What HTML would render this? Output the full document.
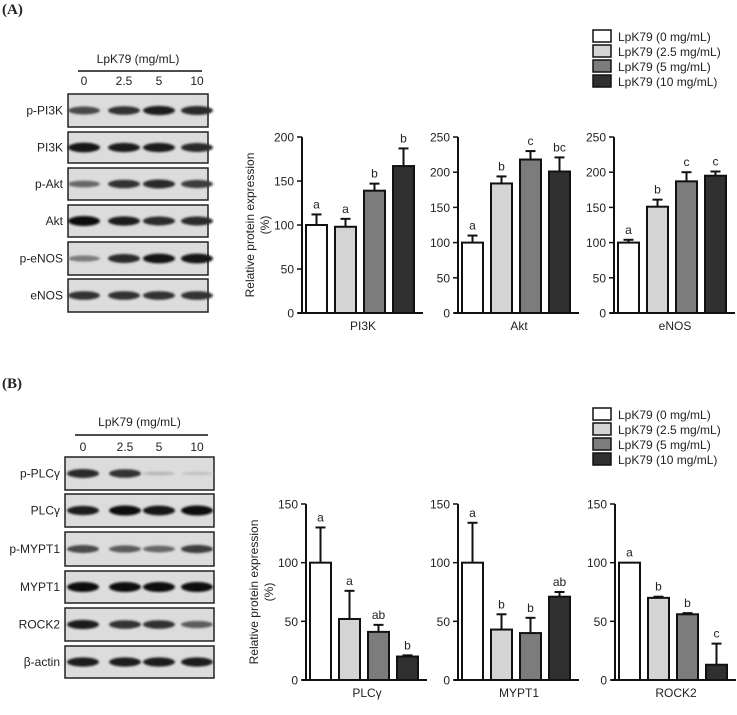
<!DOCTYPE html>
<html><head><meta charset="utf-8"><style>
body{margin:0;background:#fff;width:737px;height:710px;overflow:hidden}
svg text{font-family:"Liberation Sans",sans-serif;fill:#222}
</style></head><body>
<svg id="s" width="737" height="710" viewBox="0 0 737 710" xmlns="http://www.w3.org/2000/svg">
<defs><filter id="bl" x="-20%" y="-100%" width="140%" height="300%"><feGaussianBlur stdDeviation="1.1"/></filter></defs>
<text x="2" y="14" style="font-family:'Liberation Serif',serif;font-weight:bold;font-size:15px">(A)</text>
<text x="2" y="388" style="font-family:'Liberation Serif',serif;font-weight:bold;font-size:15px">(B)</text>
</svg>
<script>
const categoriesA=["PI3K","Akt","eNOS"];
const valuesA=[[100,98,139,167],[100,184,218,201],[100,151,187,195]];
const errorsA=[[12,9,8,20],[10,10,12,20],[4,10,13,6]];
const lettersA=[["a","a","b","b"],["a","b","c","bc"],["a","b","c","c"]];
const maxA=[200,250,250];
const ticksA=[[0,50,100,150,200],[0,50,100,150,200,250],[0,50,100,150,200,250]];
const categoriesB=["PLCγ","MYPT1","ROCK2"];
const valuesB=[[100,52,41,20],[100,43,40,71],[100,70,56,13]];
const errorsB=[[30,24,6,1],[34,13,13,4],[0,1,1,18]];
const lettersB=[["a","a","ab","b"],["a","b","b","ab"],["a","b","b","c"]];
const ticksB=[[0,50,100,150],[0,50,100,150],[0,50,100,150]];
const legendLabels=["LpK79 (0 mg/mL)","LpK79 (2.5 mg/mL)","LpK79 (5 mg/mL)","LpK79 (10 mg/mL)"];
const doses=["0","2.5","5","10"];
const blotA=["p-PI3K","PI3K","p-Akt","Akt","p-eNOS","eNOS"];
const blotB=["p-PLCγ","PLCγ","p-MYPT1","MYPT1","ROCK2","β-actin"];
const intA=[[.7,.8,.9,.85],[.95,.9,.9,.85],[.55,.8,.85,.75],[1,.9,.85,.85],[.45,.85,.95,.95],[.8,.8,.8,.8]];
const intB=[[.85,.8,.15,.1],[.9,1,.95,1],[.7,.6,.55,.75],[1,1,1,1],[.9,.8,.8,.6],[.9,.9,.9,.9]];
const fills=["#ffffff","#d4d4d4","#7c7c7c","#303030"];
const NS="http://www.w3.org/2000/svg";
const S=document.getElementById('s');
function mk(t,a,p){const e=document.createElementNS(NS,t);for(const k in a)e.setAttribute(k,a[k]);(p||S).appendChild(e);return e;}
function txt(x,y,s,sz,anchor,p){const e=mk('text',{x:x,y:y,'font-size':sz,'text-anchor':anchor||'middle'},p);e.textContent=s;return e;}

function chart(ax,y0,yTop,max,ticks,vals,errs,lets,cat,withTitle){
  const g=mk('g',{});
  
  
  const ys=v=>y0-(v/max)*(y0-yTop);
  mk('line',{x1:ax,y1:y0,x2:ax,y2:yTop,stroke:'#111','stroke-width':2},g);
  mk('line',{x1:ax-4,y1:y0,x2:ax+121,y2:y0,stroke:'#111','stroke-width':2},g);
  ticks.forEach(t=>{mk('line',{x1:ax-5,y1:ys(t),x2:ax,y2:ys(t),stroke:'#111','stroke-width':1.5},g);
    const l=txt(ax-8,ys(t)+4.5,String(t),12,'end',g);
    
    });
  vals.forEach((v,i)=>{const x=ax+4+i*29,w=21;
    const e=ys(v+errs[i]);
    if(errs[i]>0){mk('line',{x1:x+w/2,y1:ys(v),x2:x+w/2,y2:e,stroke:'#111','stroke-width':2},g);
    mk('line',{x1:x+w/2-5,y1:e,x2:x+w/2+5,y2:e,stroke:'#111','stroke-width':2},g);}
    const b=mk('rect',{x:x,y:ys(v),width:w,height:y0-ys(v),fill:fills[i],stroke:'#111','stroke-width':2},g);
    
    
    const l=txt(x+w/2,e-6,lets[i],12,'middle',g);
    
    });
  const xl=txt(ax+61,y0+17,cat,12,'middle',g);
  
  
  if(withTitle){const cy=(y0+yTop)/2;
    const t1=txt(0,0,'Relative protein expression',12,'middle',g);t1.setAttribute('transform','translate('+(ax-48)+','+cy+') rotate(-90)');
    
    
    const t2=txt(0,0,'(%)',12,'middle',g);t2.setAttribute('transform','translate('+(ax-33)+','+cy+') rotate(-90)');
    
    }
}
function legend(y){const g=mk('g',{});
  
  
  legendLabels.forEach((s,i)=>{const r=mk('rect',{x:593,y:y+i*15,width:18,height:12,fill:fills[i],stroke:'#111','stroke-width':1.5},g);
    
    
    const t=txt(618,y+i*15+11,s,12,'start',g);
    
    });}
function blot(x0,x1,rows,names,ints,headY,lineY,numY,lanes){const g=mk('g',{});
  
  
  const h=txt((x0+x1)/2,headY,'LpK79 (mg/mL)',12,'middle',g);
  mk('line',{x1:x0+10,y1:lineY,x2:x1-6,y2:lineY,stroke:'#111','stroke-width':1.5},g);
  doses.forEach((d,i)=>{const t=txt(lanes[i],numY,d,12,'middle',g);});
  rows.forEach((r,k)=>{const box=mk('rect',{x:x0,y:r[0],width:x1-x0,height:r[1]-r[0],fill:'#dcdcdc',stroke:'#222','stroke-width':1.5},g);
    
    const cy=(r[0]+r[1])/2;
    ints[k].forEach((v,i)=>{const c=Math.round(215-205*v);
      mk('ellipse',{cx:lanes[i],cy:cy,rx:16,ry:1.5+3.5*v,fill:'rgb('+c+','+c+','+c+')',filter:'url(#bl)'},g);});
    const l=txt(x0-5,cy+4,names[k],12,'end',g);});}
blot(68,208,[[94,127],[132,163],[168,200],[205,237],[242,275],[279,312]],blotA,intA,63,71,85,[84,124,159,197]);
blot(65,214,[[457,490],[494,527],[532,566],[571,603],[608,641],[646,678]],blotB,intB,426,435,451,[83,125,159,197]);
legend(30);legend(408);
const axA=[302,458,614];
categoriesA.forEach((c,i)=>chart(axA[i],313,137,maxA[i],ticksA[i],valuesA[i],errorsA[i],lettersA[i],c,i==0));
const axB=[306,458,615];
categoriesB.forEach((c,i)=>chart(axB[i],680,504,150,ticksB[i],valuesB[i],errorsB[i],lettersB[i],c,i==0));
</script>
</body></html>
